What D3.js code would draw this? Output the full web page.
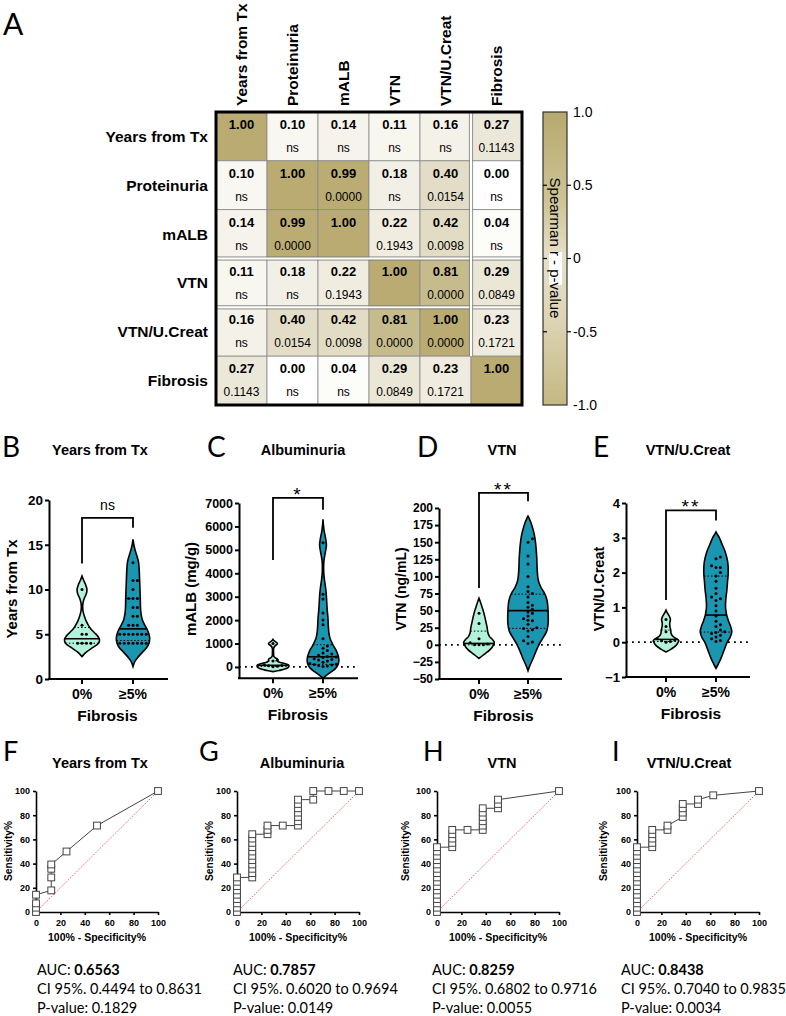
<!DOCTYPE html>
<html>
<head>
<meta charset="utf-8">
<script src="https://cdn.jsdelivr.net/npm/d3@7"></script>
<style>
body { margin: 0; background: #fff; }
svg { display: block; }
text { font-family: "Liberation Sans", Arial, sans-serif; fill: #000; }
.cal { font-family: Lato, "Open Sans", sans-serif; }
</style>
</head>
<body>
<svg id="fig" width="786" height="1016"></svg>
<script>

/* ---------- data ---------- */

// A: spearman matrix
const vars = ['Years from Tx', 'Proteinuria', 'mALB', 'VTN', 'VTN/U.Creat', 'Fibrosis']
const rVals = [
    [1.00, 0.10, 0.14, 0.11, 0.16, 0.27],
    [0.10, 1.00, 0.99, 0.18, 0.40, 0.00],
    [0.14, 0.99, 1.00, 0.22, 0.42, 0.04],
    [0.11, 0.18, 0.22, 1.00, 0.81, 0.29],
    [0.16, 0.40, 0.42, 0.81, 1.00, 0.23],
    [0.27, 0.00, 0.04, 0.29, 0.23, 1.00]
]
const pVals = [
    ['', 'ns', 'ns', 'ns', 'ns', '0.1143'],
    ['ns', '', '0.0000', 'ns', '0.0154', 'ns'],
    ['ns', '0.0000', '', '0.1943', '0.0098', 'ns'],
    ['ns', 'ns', '0.1943', '', '0.0000', '0.0849'],
    ['ns', '0.0154', '0.0098', '0.0000', '0.0000', '0.1721'],
    ['0.1143', 'ns', 'ns', '0.0849', '0.1721', '']
]
const barTicks = [1.0, 0.5, 0, -0.5, -1.0]
const barTickLabels = ['1.0', '0.5', '0', '-0.5', '-1.0']

// B-E: violins
const groups = ['0%', '≥5%']

const yearsDots0 = [4, 4, 4, 4, 5, 5, 6, 10]
const yearsDots5 = [4, 4, 4, 4, 4, 4, 4, 5, 5, 5, 5, 5, 5, 5, 6, 6, 6, 7, 7, 8, 8, 9, 9, 9, 10, 11, 11, 13]
const yearsDens0 = [[2.5,0],[3,0.25],[3.5,0.62],[4,0.97],[4.4,1.03],[4.8,0.92],[5.2,0.72],[5.6,0.52],[6,0.38],[6.5,0.24],[7,0.14],[7.5,0.07],[8,0.04],[8.5,0.06],[9,0.13],[9.5,0.25],[10,0.29],[10.5,0.22],[11,0.1],[11.5,0]]
const yearsDens5 = [[1.4,0],[2,0.12],[2.5,0.32],[3,0.56],[3.5,0.8],[4,0.94],[4.5,0.98],[5,0.94],[5.5,0.84],[6,0.7],[6.5,0.57],[7,0.5],[7.5,0.46],[8,0.44],[9,0.43],[10,0.41],[11,0.39],[12,0.37],[13,0.33],[13.5,0.27],[14,0.19],[14.5,0.11],[15,0.05],[15.6,0]]
const yearsStats = [[4, 4.5, 5.75], [4.3, 5.6, 9]]   // q1, median, q3

const albDots0 = [10, 30, 50, 60, 90, 250, 300, 1000]
const albDots5 = [20, 40, 60, 80, 100, 120, 150, 200, 250, 300, 320, 350, 400, 420, 450, 500, 550, 600, 700, 800, 900, 1200, 1800, 2000, 2300, 2900, 3100, 5300]
const albDens0 = [[-200,0],[-150,0.35],[-80,0.75],[0,0.92],[60,0.94],[120,0.8],[180,0.5],[230,0.3],[280,0.27],[340,0.25],[400,0.12],[460,0.05],[600,0.035],[800,0.04],[900,0.12],[970,0.24],[1010,0.26],[1070,0.16],[1130,0.05],[1180,0]]
const albDens5 = [[-480,0],[-350,0.22],[-200,0.5],[-50,0.75],[100,0.88],[250,0.93],[400,0.92],[550,0.86],[700,0.78],[850,0.66],[1000,0.55],[1200,0.42],[1500,0.34],[1800,0.31],[2100,0.29],[2500,0.24],[2900,0.21],[3200,0.18],[3500,0.13],[3800,0.07],[4100,0.04],[4500,0.05],[4900,0.14],[5200,0.2],[5500,0.15],[5800,0.07],[6100,0.02],[6300,0]]
const albStats = [[25, 70, 260], [110, 435, 950]]

const vtnDots0 = [0, 0, 0, 1, 3, 9, 31, 46]
const vtnDots5 = [2, 4, 6, 12, 20, 22, 24, 25, 30, 35, 36, 38, 42, 46, 48, 52, 55, 58, 62, 70, 75, 78, 85, 100, 118, 130, 150, 155]
const vtnDens0 = [[-20,0],[-14,0.3],[-7,0.65],[0,0.86],[4,0.9],[8,0.78],[12,0.62],[18,0.52],[25,0.48],[32,0.42],[40,0.35],[48,0.27],[55,0.18],[62,0.09],[68,0]]
const vtnDens5 = [[-38,0],[-30,0.12],[-20,0.3],[-10,0.46],[0,0.64],[10,0.88],[20,1.1],[30,1.18],[50,1.18],[65,1.12],[75,0.98],[85,0.74],[95,0.6],[110,0.54],[125,0.52],[140,0.48],[150,0.44],[160,0.38],[170,0.28],[178,0.18],[184,0.08],[188,0]]
const vtnStats = [[0, 2, 20], [24, 50, 74]]

const ratioDots0 = [0, 0.02, 0.04, 0.06, 0.1, 0.3, 0.45, 0.65]
const ratioDots5 = [0.02, 0.05, 0.1, 0.15, 0.2, 0.25, 0.28, 0.3, 0.35, 0.45, 0.5, 0.6, 0.75, 0.9, 1.05, 1.2, 1.25, 1.3, 1.4, 1.55, 1.75, 1.9, 2.0, 2.15, 2.15, 2.2, 2.4, 2.45]
const ratioDens0 = [[-0.28,0],[-0.2,0.3],[-0.1,0.58],[0,0.72],[0.05,0.75],[0.1,0.62],[0.17,0.4],[0.25,0.3],[0.35,0.28],[0.45,0.23],[0.55,0.22],[0.65,0.26],[0.72,0.22],[0.8,0.13],[0.86,0.06],[0.92,0]]
const ratioDens5 = [[-0.75,0],[-0.62,0.14],[-0.5,0.26],[-0.25,0.46],[0,0.66],[0.15,0.84],[0.3,0.93],[0.45,0.86],[0.6,0.74],[0.8,0.62],[1,0.56],[1.25,0.58],[1.5,0.64],[1.75,0.68],[2,0.72],[2.3,0.69],[2.6,0.54],[2.8,0.37],[3,0.2],[3.1,0.08],[3.17,0]]
const ratioStats = [[0.02, 0.08, 0.35], [0.29, 0.78, 1.9]]

// significance brackets: label, bar level, left leg end, right leg end
const sigYears = ['ns', 18.0, 12.9, 16.9]
const sigAlb = ['*', 7220, 4570, 6710]
const sigVtn = ['**', 222, 83, 210]
const sigRatio = ['**', 3.79, 1.21, 3.5]

// F-I: ROC curves (100% - specificity, sensitivity)
const rocYears = [[0,0],[0,3.57],[0,7.14],[0,14.29],[12.5,17.86],[12.5,28.57],[12.5,35.71],[12.5,39.29],[25,50],[50,71.43],[100,100]]
const rocAlb = [[0,0],[0,3.57],[0,7.14],[0,10.71],[0,14.29],[0,17.86],[0,21.43],[0,25],[0,28.57],
    [12.5,28.57],[12.5,32.14],[12.5,35.71],[12.5,39.29],[12.5,42.86],[12.5,46.43],[12.5,50],[12.5,53.57],[12.5,57.14],[12.5,60.71],[12.5,64.29],
    [25,64.29],[25,67.86],[25,71.43],[37.5,71.43],
    [50,71.43],[50,75],[50,78.57],[50,82.14],[50,85.71],[50,89.29],[50,92.86],
    [62.5,92.86],[62.5,100],[75,100],[87.5,100],[100,100]]
const rocVtn = [[0,0],[0,3.57],[0,7.14],[0,10.71],[0,14.29],[0,17.86],[0,21.43],[0,25],[0,28.57],[0,32.14],[0,35.71],[0,39.29],[0,42.86],[0,46.43],[0,50],[0,53.57],
    [12.5,53.57],[12.5,57.14],[12.5,60.71],[12.5,64.29],[12.5,67.86],[25,67.86],
    [37.5,67.86],[37.5,71.43],[37.5,75],[37.5,78.57],[37.5,82.14],[37.5,85.71],
    [50,85.71],[50,89.29],[50,92.86],[100,100]]
const rocRatio = [[0,0],[0,3.57],[0,7.14],[0,10.71],[0,14.29],[0,17.86],[0,21.43],[0,25],[0,28.57],[0,32.14],[0,35.71],[0,39.29],[0,42.86],[0,46.43],[0,50],[0,53.57],
    [12.5,53.57],[12.5,57.14],[12.5,60.71],[12.5,64.29],[12.5,67.86],[25,67.86],[25,71.43],
    [37.5,78.57],[37.5,82.14],[37.5,85.71],[37.5,89.29],[50,89.29],[50,92.86],[62.5,96.43],[100,100]]
const rocTicks = [0, 20, 40, 60, 80, 100]

const aucVals = ['0.6563', '0.7857', '0.8259', '0.8438']
const ciVals = ['0.4494 to 0.8631', '0.6020 to 0.9694', '0.6802 to 0.9716', '0.7040 to 0.9835']
const pRoc = ['0.1829', '0.0149', '0.0055', '0.0034']


/* ---------- drawing ---------- */

const svg = d3.select('#fig')

function letter(txt, x, y, size) {
    svg.append('text').attr('class', 'cal').attr('x', x).attr('y', y)
        .attr('font-size', size).text(txt)
}

function styleAxis(g, size) {
    g.selectAll('text').attr('font-family', '"Liberation Sans", Arial, sans-serif')
        .attr('font-weight', 'bold').attr('font-size', size).attr('fill', '#000')
}


// A: heatmap
letter('A', 3, 35, 30)

const hx = d3.scaleBand().domain(vars).range([216, 522])
const hy = d3.scaleBand().domain(vars).range([112, 405])
const heat = d3.scaleLinear().domain([0, 1]).range(['#ffffff', '#b9ab72'])

const cells = []
rVals.forEach((row, i) => row.forEach((r, j) => cells.push({row: vars[i], col: vars[j], r: r, p: pVals[i][j]})))

const hg = svg.append('g')
hg.selectAll('rect.cell').data(cells).join('rect')
    .attr('class', 'cell')
    .attr('x', d => hx(d.col)).attr('y', d => hy(d.row))
    .attr('width', hx.bandwidth()).attr('height', hy.bandwidth())
    .attr('fill', d => heat(Math.abs(d.r)))
    .attr('stroke', '#8a8a8a').attr('stroke-width', 0.8)

hg.selectAll('text.r').data(cells).join('text')
    .attr('x', d => hx(d.col) + hx.bandwidth() / 2).attr('y', d => hy(d.row) + 17)
    .attr('text-anchor', 'middle').attr('font-weight', 'bold').attr('font-size', 13)
    .text(d => d.r.toFixed(2))

hg.selectAll('text.p').data(cells.filter(d => d.p)).join('text')
    .attr('x', d => hx(d.col) + hx.bandwidth() / 2).attr('y', d => hy(d.row) + 40)
    .attr('text-anchor', 'middle').attr('font-size', 12).attr('fill', '#222')
    .text(d => d.p)

// white double separators
const gapY = [hy('VTN'), hy('VTN/U.Creat')]
gapY.forEach(y => {
    hg.append('line').attr('x1', 216).attr('x2', 522).attr('y1', y).attr('y2', y)
        .attr('stroke', '#fff').attr('stroke-width', 2.4)
    ;[-1.6, 1.6].forEach(o => hg.append('line').attr('x1', 216).attr('x2', 522)
        .attr('y1', y + o).attr('y2', y + o).attr('stroke', '#777').attr('stroke-width', 0.8))
})
{
    const x = hx('Fibrosis'), y1 = 112, y2 = hy('Fibrosis')
    hg.append('line').attr('x1', x).attr('x2', x).attr('y1', y1).attr('y2', y2)
        .attr('stroke', '#fff').attr('stroke-width', 2.4)
    ;[-1.6, 1.6].forEach(o => hg.append('line').attr('x1', x + o).attr('x2', x + o)
        .attr('y1', y1).attr('y2', y2).attr('stroke', '#777').attr('stroke-width', 0.8))
}
hg.append('rect').attr('x', 216).attr('y', 112).attr('width', 306).attr('height', 293)
    .attr('fill', 'none').attr('stroke', '#000').attr('stroke-width', 3)

// labels
hg.selectAll('text.colname').data(vars).join('text')
    .attr('transform', d => `translate(${hx(d) + hx.bandwidth() / 2},106) rotate(-90)`)
    .attr('dy', '0.35em').attr('font-weight', 'bold').attr('font-size', 15.5)
    .text(d => d)
hg.selectAll('text.rowname').data(vars).join('text')
    .attr('x', 208).attr('y', d => hy(d) + hy.bandwidth() / 2)
    .attr('dy', '0.35em').attr('text-anchor', 'end').attr('font-weight', 'bold').attr('font-size', 15.5)
    .text(d => d)

// colour bar
const grad = svg.append('defs').append('linearGradient').attr('id', 'cbar')
    .attr('x1', 0).attr('x2', 0).attr('y1', 0).attr('y2', 1)
grad.selectAll('stop').data([[0, '#b7a96e'], [0.3, '#cdc396'], [0.5, '#e6e0c9'], [0.7, '#ddd5b6'], [1, '#c4b882']])
    .join('stop').attr('offset', d => d[0]).attr('stop-color', d => d[1])

const cb = d3.scaleLinear().domain([-1, 1]).range([405, 112])
svg.append('rect').attr('x', 543).attr('y', 112).attr('width', 24).attr('height', 293)
    .attr('fill', 'url(#cbar)').attr('stroke', '#333').attr('stroke-width', 1.2)
svg.append('rect').attr('x', 549).attr('y', 252).attr('width', 13).attr('height', 33).attr('fill', '#fff')
svg.selectAll('line.cbt').data(barTicks.filter(t => Math.abs(t) < 1)).join('line')
    .attr('x1', 543).attr('x2', 547).attr('y1', d => cb(d)).attr('y2', d => cb(d))
    .attr('stroke', '#000').attr('stroke-width', 1.2)
svg.selectAll('line.cbt2').data(barTicks.filter(t => Math.abs(t) < 1)).join('line')
    .attr('x1', 567).attr('x2', 571).attr('y1', d => cb(d)).attr('y2', d => cb(d))
    .attr('stroke', '#000').attr('stroke-width', 1.2)
svg.selectAll('text.cbl').data(barTicks).join('text')
    .attr('x', 573).attr('y', d => cb(d)).attr('dy', '0.35em').attr('font-size', 14)
    .text((d, i) => barTickLabels[i])
svg.append('text').attr('transform', 'translate(555,248) rotate(90)')
    .attr('dy', '0.35em').attr('text-anchor', 'middle').attr('font-size', 15)
    .text('Spearman r - p-value')


// B-E: violin panels
const violinPanels = [
    {letter: 'B', lx: 2, title: 'Years from Tx', tx: 100, ax: 49, right: 168, cats: [82, 133],
     domain: [0, 20], range: [679, 500], ticks: [0, 5, 10, 15, 20], tfs: 13.5, ylab: 'Years from Tx', ylx: 12, yls: 15,
     zero: false, dots: [yearsDots0, yearsDots5], dens: [yearsDens0, yearsDens5], stats: yearsStats, sig: sigYears},
    {letter: 'C', lx: 207, title: 'Albuminuria', tx: 303, ax: 239, right: 358, cats: [273, 323],
     domain: [-480, 7000], range: [678.2, 503], ticks: d3.range(0, 7001, 1000), tfs: 12.5, ylab: 'mALB (mg/g)', ylx: 191, yls: 15,
     zero: true, dots: [albDots0, albDots5], dens: [albDens0, albDens5], stats: albStats, sig: sigAlb},
    {letter: 'D', lx: 417, title: 'VTN', tx: 502, ax: 439, right: 562, cats: [479, 528],
     domain: [-50, 200], range: [679, 508], ticks: d3.range(-50, 201, 25), tfs: 12, ylab: 'VTN (ng/mL)', ylx: 401, yls: 14,
     zero: true, dots: [vtnDots0, vtnDots5], dens: [vtnDens0, vtnDens5], stats: vtnStats, sig: sigVtn},
    {letter: 'E', lx: 593, title: 'VTN/U.Creat', tx: 688, ax: 626, right: 750, cats: [666, 716],
     domain: [-1, 4], range: [677, 503], ticks: [-1, 0, 1, 2, 3, 4], tfs: 13, ylab: 'VTN/U.Creat', ylx: 599, yls: 14.5,
     zero: true, dots: [ratioDots0, ratioDots5], dens: [ratioDens0, ratioDens5], stats: ratioStats, sig: sigRatio}
]
const fills = ['#b3f2da', '#1b96b0']
const halfW = d3.scaleLinear().domain([0, 1]).range([0, 17])

// width of a violin at value v (linear between profile points)
function widthAt(dens, v) {
    for (let i = 1; i < dens.length; i++) {
        if (v <= dens[i][0]) {
            const a = dens[i - 1], b = dens[i]
            return halfW(a[1] + (b[1] - a[1]) * (v - a[0]) / (b[0] - a[0]))
        }
    }
    return 0
}

// simple beeswarm in pixel space
function swarm(vals, y, cx) {
    const placed = []
    const offs = [0]
    for (let i = 1; i < 12; i++) offs.push(i * 4.4, -i * 4.4)
    vals.slice().sort((a, b) => a - b).forEach(v => {
        const py = y(v)
        let px = cx
        for (const o of offs) {
            px = cx + o
            if (placed.every(p => (p[0] - px) ** 2 + (p[1] - py) ** 2 > 16)) break
        }
        placed.push([px, py])
    })
    return placed
}

violinPanels.forEach(p => {
    const g = svg.append('g')
    const y = d3.scaleLinear().domain(p.domain).range(p.range)
    const x = d3.scaleOrdinal().domain(groups).range(p.cats)
    const base = y(p.domain[0])

    letter(p.letter, p.lx, 457, 28)
    g.append('text').attr('x', p.tx).attr('y', 455).attr('text-anchor', 'middle')
        .attr('font-weight', 'bold').attr('font-size', 14.5).text(p.title)

    if (p.zero) {
        g.append('line').attr('x1', p.ax).attr('x2', p.right).attr('y1', y(0)).attr('y2', y(0))
            .attr('stroke', '#000').attr('stroke-width', 1.8).attr('stroke-dasharray', '1.8,4.2')
    }

    groups.forEach((grp, k) => {
        const cx = x(grp)
        const dens = p.dens[k]
        const area = d3.area().curve(d3.curveCatmullRom)
            .y(d => y(d[0])).x0(d => cx - halfW(d[1])).x1(d => cx + halfW(d[1]))
        g.append('path').datum(dens).attr('d', area)
            .attr('fill', fills[k]).attr('stroke', '#000').attr('stroke-width', 1.6)

        // quartiles dotted, median solid
        p.stats[k].forEach((v, s) => {
            const w = widthAt(dens, v)
            g.append('line').attr('x1', cx - w).attr('x2', cx + w).attr('y1', y(v)).attr('y2', y(v))
                .attr('stroke', '#000').attr('stroke-width', s === 1 ? 1.6 : 1)
                .attr('stroke-dasharray', s === 1 ? null : '1.5,2')
        })

        g.selectAll(null).data(swarm(p.dots[k], y, cx)).join('circle')
            .attr('cx', d => d[0]).attr('cy', d => d[1]).attr('r', 1.5).attr('fill', '#000')
    })

    // axes
    const ya = g.append('g').attr('transform', `translate(${p.ax},0)`)
        .call(d3.axisLeft(y).tickValues(p.ticks).tickSize(4).tickSizeOuter(0).tickFormat(d3.format('d')))
    ya.selectAll('path,line').attr('stroke', '#000').attr('stroke-width', 2)
    ya.selectAll('text').attr('x', -6)
    styleAxis(ya, p.tfs)

    g.append('line').attr('x1', p.ax - 1).attr('x2', p.right).attr('y1', base).attr('y2', base)
        .attr('stroke', '#000').attr('stroke-width', 2)
    g.selectAll(null).data(groups).join('line')
        .attr('x1', d => x(d)).attr('x2', d => x(d)).attr('y1', base).attr('y2', base + 5)
        .attr('stroke', '#000').attr('stroke-width', 2)
    g.selectAll(null).data(groups).join('text')
        .attr('x', d => x(d)).attr('y', base + 20).attr('text-anchor', 'middle')
        .attr('font-weight', 'bold').attr('font-size', 14).text(d => d)
    g.append('text').attr('x', (p.cats[0] + p.cats[1]) / 2).attr('y', base + 42).attr('text-anchor', 'middle')
        .attr('font-weight', 'bold').attr('font-size', 15.5).text('Fibrosis')

    g.append('text').attr('transform', `translate(${p.ylx},589) rotate(-90)`)
        .attr('dy', '0.35em').attr('text-anchor', 'middle').attr('font-weight', 'bold')
        .attr('font-size', p.yls).text(p.ylab)

    // significance bracket
    const [lab, bar, l, r] = p.sig
    g.append('path')
        .attr('d', `M${p.cats[0]},${y(l)}V${y(bar)}H${p.cats[1]}V${y(r)}`)
        .attr('fill', 'none').attr('stroke', '#000').attr('stroke-width', 1.8)
    if (lab === 'ns') {
        g.append('text').attr('x', (p.cats[0] + p.cats[1]) / 2).attr('y', y(bar) - 8)
            .attr('text-anchor', 'middle').attr('font-size', 14).text(lab)
    } else {
        g.append('text').attr('x', (p.cats[0] + p.cats[1]) / 2).attr('y', y(bar) + 3)
            .attr('text-anchor', 'middle').attr('font-size', 19).attr('letter-spacing', 2).text(lab)
    }
})


// F-I: ROC panels
const rocPanels = [
    {letter: 'F', lx: 3, title: 'Years from Tx', tx: 100, ax: 36, ylx: 8, txx: 37, data: rocYears},
    {letter: 'G', lx: 199, title: 'Albuminuria', tx: 302, ax: 237, ylx: 209, txx: 233, data: rocAlb},
    {letter: 'H', lx: 423, title: 'VTN', tx: 502, ax: 437, ylx: 405, txx: 432, data: rocVtn},
    {letter: 'I', lx: 612, title: 'VTN/U.Creat', tx: 689, ax: 637, ylx: 603, txx: 621, data: rocRatio}
]

rocPanels.forEach((p, i) => {
    const g = svg.append('g')
    const x = d3.scaleLinear().domain([0, 100]).range([p.ax, p.ax + 122])
    const y = d3.scaleLinear().domain([0, 100]).range([912, 791])

    letter(p.letter, p.lx, 761, 27)
    g.append('text').attr('x', p.tx).attr('y', 768).attr('text-anchor', 'middle')
        .attr('font-weight', 'bold').attr('font-size', 14.5).text(p.title)

    const xa = g.append('g').attr('transform', 'translate(0,912)')
        .call(d3.axisBottom(x).tickValues(rocTicks).tickSize(3).tickSizeOuter(0))
    const ya = g.append('g').attr('transform', `translate(${p.ax},0)`)
        .call(d3.axisLeft(y).tickValues(rocTicks).tickSize(3).tickSizeOuter(0))
    ;[xa, ya].forEach(a => {
        a.selectAll('path,line').attr('stroke', '#000').attr('stroke-width', 1.6)
        styleAxis(a, 9)
    })
    xa.selectAll('text').attr('y', 8)

    // chance line
    g.append('line').attr('x1', x(0)).attr('y1', y(0)).attr('x2', x(100)).attr('y2', y(100))
        .attr('stroke', '#ff5a5a').attr('stroke-width', 1).attr('stroke-dasharray', '1.5,1.5')

    g.append('path').datum(p.data)
        .attr('d', d3.line().x(d => x(d[0])).y(d => y(d[1])))
        .attr('fill', 'none').attr('stroke', '#444').attr('stroke-width', 1)
    g.selectAll('rect').data(p.data).join('rect')
        .attr('x', d => x(d[0]) - 3.4).attr('y', d => y(d[1]) - 3.4)
        .attr('width', 6.8).attr('height', 6.8)
        .attr('fill', '#fff').attr('stroke', '#444').attr('stroke-width', 1)

    g.append('text').attr('transform', `translate(${p.ylx},851) rotate(-90)`)
        .attr('dy', '0.35em').attr('text-anchor', 'middle').attr('font-weight', 'bold')
        .attr('font-size', 10.2).text('Sensitivity%')
    g.append('text').attr('x', p.ax + 61).attr('y', 941).attr('text-anchor', 'middle')
        .attr('font-weight', 'bold').attr('font-size', 10.5).text('100% - Specificity%')

    // AUC summary
    const t = g.append('text').attr('class', 'cal').attr('x', p.txx).attr('y', 975)
        .attr('font-size', 14.5).attr('fill', '#222')
    t.append('tspan').text('AUC: ')
    t.append('tspan').attr('font-weight', 'bold').text(aucVals[i])
    g.append('text').attr('class', 'cal').attr('x', p.txx).attr('y', 994)
        .attr('font-size', 14.5).attr('fill', '#222').text('CI 95%. ' + ciVals[i])
    g.append('text').attr('class', 'cal').attr('x', p.txx).attr('y', 1013)
        .attr('font-size', 14.5).attr('fill', '#222').text('P-value: ' + pRoc[i])
})

</script>
</body>
</html>
